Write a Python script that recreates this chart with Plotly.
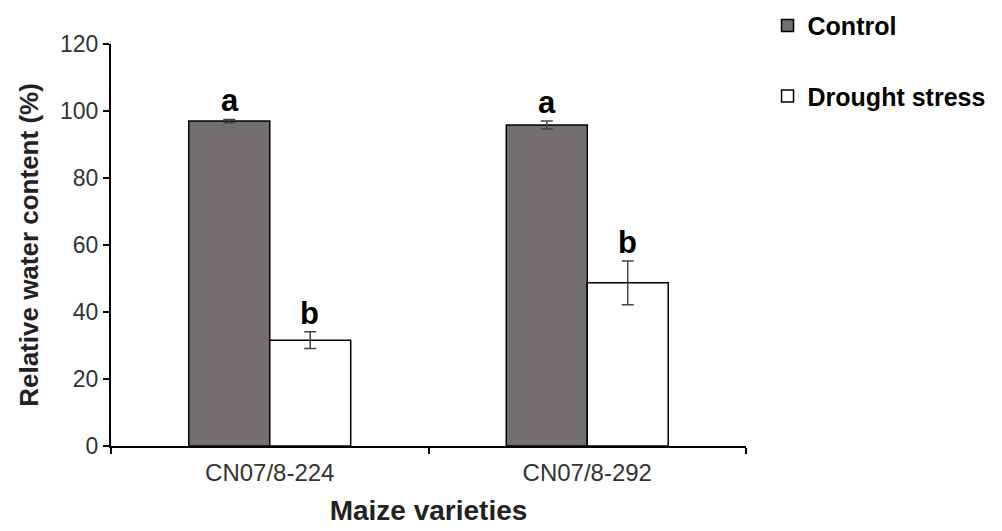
import plotly.graph_objects as go

varieties = ["CN07/8-224", "CN07/8-292"]
control = [97.0, 95.8]
control_err = [0.5, 1.2]
drought = [31.6, 48.7]
drought_err = [2.5, 6.5]
control_letters = ["a", "a"]
drought_letters = ["b", "b"]

FONT = "Liberation Sans, Arial, sans-serif"

fig = go.Figure()
fig.add_trace(go.Bar(
    x=varieties, y=control, name="Control", legendgroup="c",
    marker=dict(color="#736f6f", line=dict(color="black", width=1.5)),
    error_y=dict(type="data", array=control_err, color="#444", thickness=1.5, width=6),
))
fig.add_trace(go.Bar(
    x=varieties, y=drought, name="Drought stress", legendgroup="d",
    marker=dict(color="white", line=dict(color="black", width=1.5)),
    error_y=dict(type="data", array=drought_err, color="#444", thickness=1.5, width=6),
))

for v, val, err, lab in zip(varieties, control, control_err, control_letters):
    fig.add_annotation(x=v, y=val + err, text=f"<b>{lab}</b>", showarrow=False,
                       xshift=-40, yanchor="bottom", yshift=-1,
                       font=dict(family=FONT, size=31, color="black"))
for v, val, err, lab in zip(varieties, drought, drought_err, drought_letters):
    fig.add_annotation(x=v, y=val + err, text=f"<b>{lab}</b>", showarrow=False,
                       xshift=40, yanchor="bottom", yshift=-1,
                       font=dict(family=FONT, size=31, color="black"))

fig.update_layout(
    width=1002, height=531,
    margin=dict(l=111, r=256, t=44, b=85),
    paper_bgcolor="white", plot_bgcolor="white",
    barmode="group", bargap=0.49, bargroupgap=0,
    font=dict(family=FONT, color="#333"),
    legend=dict(
        xref="container", yref="container", x=0.766, y=0.995,
        xanchor="left", yanchor="top",
        font=dict(family=FONT, size=25, color="black", weight="bold"),
        tracegroupgap=35, traceorder="grouped",
        itemwidth=30,
    ),
)
fig.update_xaxes(
    automargin=False,
    showline=True, linecolor="black", linewidth=2,
    ticks="outside", tickson="boundaries", ticklen=6, tickwidth=2, tickcolor="black",
    tickfont=dict(family=FONT, size=24, color="#333"),
    ticklabelstandoff=4,
    title=dict(text="<b>Maize varieties</b>", font=dict(family=FONT, size=28, color="#222"), standoff=16),
    showgrid=False,
)
fig.update_yaxes(
    automargin=False,
    range=[0, 120], dtick=20,
    showline=True, linecolor="black", linewidth=2,
    ticks="outside", ticklen=6, tickwidth=2, tickcolor="black",
    tickfont=dict(family=FONT, size=23, color="#333"),
    title=dict(text="<b>Relative water content (%)</b>", font=dict(family=FONT, size=26, color="#222"), standoff=14),
    showgrid=False, zeroline=False,
)

fig.write_html("out.html")
